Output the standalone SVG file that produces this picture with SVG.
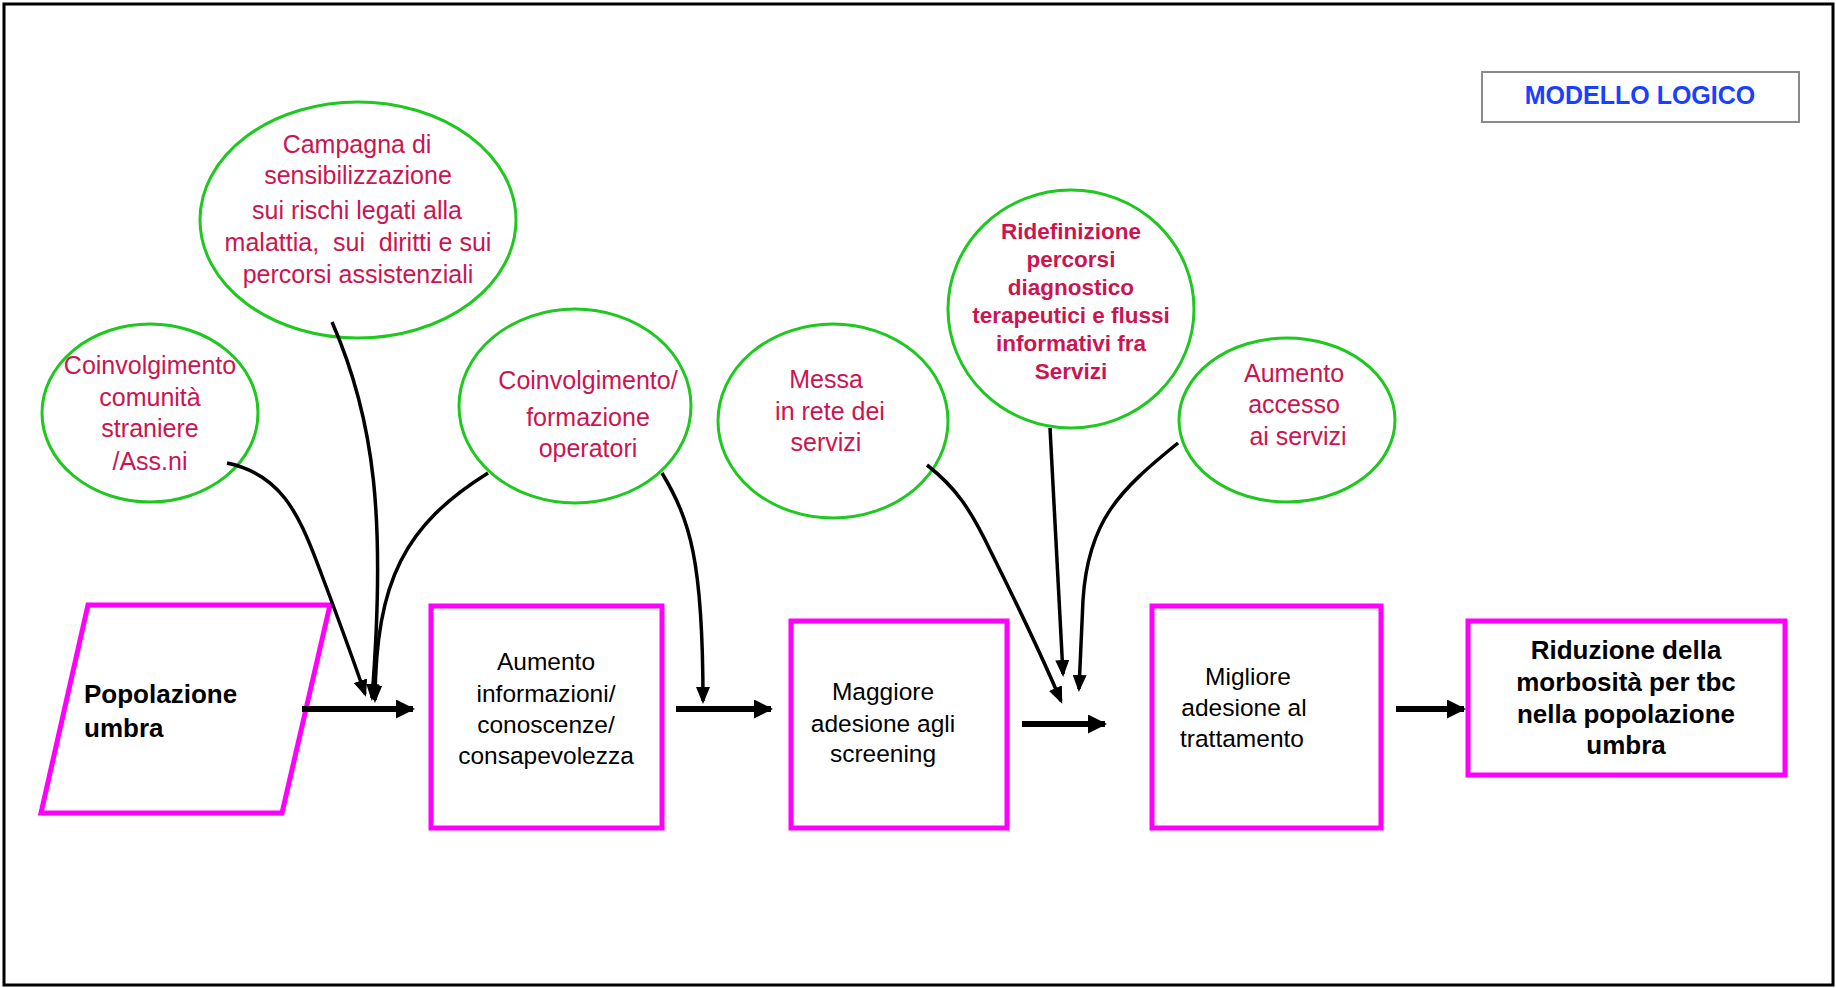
<svg xmlns="http://www.w3.org/2000/svg" width="1836" height="988" viewBox="0 0 1836 988">
<style>
.ell{fill:#fff;stroke:#1ec81e;stroke-width:3}
.box{fill:#fff;stroke:#ff00ff;stroke-width:5}
.t{font-family:"Liberation Sans",Arial,sans-serif;font-size:25px;fill:#cc1450;text-anchor:middle}
.tb{font-family:"Liberation Sans",Arial,sans-serif;font-size:22.5px;font-weight:bold;fill:#cc1450;text-anchor:middle}
.k{font-family:"Liberation Sans",Arial,sans-serif;font-size:24.5px;fill:#000;text-anchor:middle}
.kb{font-family:"Liberation Sans",Arial,sans-serif;font-size:26px;font-weight:bold;fill:#000}
.c{fill:none;stroke:#000;stroke-width:3.5}
.h{fill:none;stroke:#000;stroke-width:6}
</style>
<defs>
<marker id="ah" markerUnits="userSpaceOnUse" markerWidth="17" markerHeight="14" refX="14" refY="7" orient="auto" viewBox="0 0 17 14">
<path d="M0,0 L17,7 L0,14 z" fill="#000"/>
</marker>
<marker id="ahb" markerUnits="userSpaceOnUse" markerWidth="19" markerHeight="19" refX="17" refY="9.5" orient="auto" viewBox="0 0 19 19">
<path d="M0,0 L19,9.5 L0,19 z" fill="#000"/>
</marker>
</defs>
<rect x="0" y="0" width="1836" height="988" fill="#fff"/>
<rect x="4" y="4" width="1829" height="981" fill="none" stroke="#000" stroke-width="3"/>

<g id="title">
<rect x="1482" y="72" width="317" height="50" fill="#fff" stroke="#8a8a8a" stroke-width="2"/>
<text x="1640" y="104" style="font-family:'Liberation Sans',Arial,sans-serif;font-size:25px;font-weight:bold;fill:#1a40ff;text-anchor:middle">MODELLO LOGICO</text>
</g>

<g id="campagna">
<ellipse class="ell" cx="358" cy="220" rx="158" ry="118"/>
<text class="t" x="357" y="153">Campagna di</text>
<text class="t" x="358" y="184">sensibilizzazione</text>
<text class="t" x="357" y="219">sui rischi legati alla</text>
<text class="t" x="358" y="251" xml:space="preserve">malattia,  sui  diritti e sui</text>
<text class="t" x="358" y="283">percorsi assistenziali</text>
</g>

<g id="comunita">
<ellipse class="ell" cx="150" cy="413" rx="108" ry="89"/>
<text class="t" x="150" y="374">Coinvolgimento</text>
<text class="t" x="150" y="406">comunità</text>
<text class="t" x="150" y="437">straniere</text>
<text class="t" x="150" y="470">/Ass.ni</text>
</g>

<g id="formazione">
<ellipse class="ell" cx="575" cy="406" rx="116" ry="97"/>
<text class="t" x="588" y="389">Coinvolgimento/</text>
<text class="t" x="588" y="426">formazione</text>
<text class="t" x="588" y="457">operatori</text>
</g>

<g id="messa">
<ellipse class="ell" cx="833" cy="421" rx="115" ry="97"/>
<text class="t" x="826" y="388">Messa</text>
<text class="t" x="830" y="420">in rete dei</text>
<text class="t" x="826" y="451">servizi</text>
</g>

<g id="ridefinizione">
<ellipse class="ell" cx="1071" cy="309" rx="123" ry="119"/>
<text class="tb" x="1071" y="239">Ridefinizione</text>
<text class="tb" x="1071" y="267">percorsi</text>
<text class="tb" x="1071" y="295">diagnostico</text>
<text class="tb" x="1071" y="323">terapeutici e flussi</text>
<text class="tb" x="1071" y="351">informativi fra</text>
<text class="tb" x="1071" y="379">Servizi</text>
</g>

<g id="accesso">
<ellipse class="ell" cx="1287" cy="420" rx="108" ry="82"/>
<text class="t" x="1294" y="382">Aumento</text>
<text class="t" x="1294" y="413">accesso</text>
<text class="t" x="1298" y="445">ai servizi</text>
</g>

<g id="popolazione">
<polygon class="box" points="88,605 330,605 282,813 41,813"/>
<text class="kb" x="84" y="703">Popolazione</text>
<text class="kb" x="84" y="737">umbra</text>
</g>

<g id="informazioni">
<rect class="box" x="431" y="606" width="231" height="222"/>
<text class="k" x="546" y="670">Aumento</text>
<text class="k" x="546" y="702">informazioni/</text>
<text class="k" x="546" y="733">conoscenze/</text>
<text class="k" x="546" y="764">consapevolezza</text>
</g>

<g id="screening">
<rect class="box" x="791" y="621" width="216" height="207"/>
<text class="k" x="883" y="700">Maggiore</text>
<text class="k" x="883" y="732">adesione agli</text>
<text class="k" x="883" y="762">screening</text>
</g>

<g id="trattamento">
<rect class="box" x="1152" y="606" width="229" height="222"/>
<text class="k" x="1248" y="685">Migliore</text>
<text class="k" x="1244" y="716">adesione al</text>
<text class="k" x="1242" y="747">trattamento</text>
</g>

<g id="riduzione">
<rect class="box" x="1468" y="621" width="317" height="154"/>
<text class="kb" x="1626" y="659" text-anchor="middle">Riduzione della</text>
<text class="kb" x="1626" y="691" text-anchor="middle">morbosità per tbc</text>
<text class="kb" x="1626" y="723" text-anchor="middle">nella popolazione</text>
<text class="kb" x="1626" y="754" text-anchor="middle">umbra</text>
</g>

<g id="connectors">
<path class="c" d="M227,463 C280,474 298,512 318,565 C335,610 350,650 365,694" marker-end="url(#ah)"/>
<path class="c" d="M332,322 C375,420 386,520 372,698" marker-end="url(#ah)"/>
<path class="c" d="M488,473 C405,525 376,580 375,700" marker-end="url(#ah)"/>
<path class="c" d="M662,473 C690,520 703,560 703,701" marker-end="url(#ah)"/>
<path class="c" d="M927,465 C955,487 970,508 990,550 C1015,600 1040,652 1061,701" marker-end="url(#ah)"/>
<path class="c" d="M1050,428 L1063,674" marker-end="url(#ah)"/>
<path class="c" d="M1178,443 C1120,490 1088,520 1083,600 L1079,689" marker-end="url(#ah)"/>
<line class="h" x1="302" y1="709" x2="413" y2="709" marker-end="url(#ahb)"/>
<line class="h" x1="676" y1="709" x2="771" y2="709" marker-end="url(#ahb)"/>
<line class="h" x1="1022" y1="724" x2="1105" y2="724" marker-end="url(#ahb)"/>
<line class="h" x1="1396" y1="709" x2="1464" y2="709" marker-end="url(#ahb)"/>
</g>
</svg>
